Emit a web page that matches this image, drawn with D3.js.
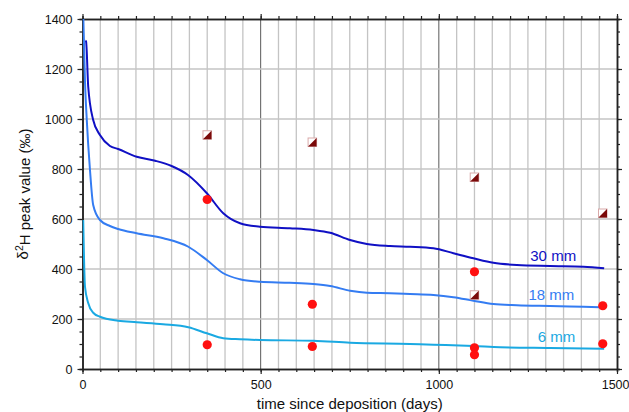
<!DOCTYPE html>
<html>
<head>
<meta charset="utf-8">
<script src="https://cdn.jsdelivr.net/npm/d3@7"></script>
<style>
  body { margin: 0; background: #fff; }
  text { font-family: "Liberation Sans", Arial, sans-serif; }
</style>
</head>
<body>
<div id="chart"></div>
<script>
// model curves (days, delta2H)
const days30 = [8, 10, 16, 30, 49, 77, 100, 152, 204, 250, 296, 349, 395, 442, 498, 582, 648, 695, 751, 798, 863, 919, 985, 1041, 1097, 1153, 1219, 1312, 1406, 1464];
const vals30 = [1313, 1310, 1130, 996, 936, 892, 880, 849, 833, 812, 776, 703, 623, 583, 569, 563, 556, 545, 516, 500, 492, 489, 483, 463, 443, 425, 416, 412, 409, 403];

const days18 = [2, 7, 12, 21, 30, 49, 77, 100, 152, 227, 297, 349, 395, 442, 498, 582, 648, 695, 751, 798, 863, 919, 985, 1041, 1097, 1153, 1219, 1312, 1406, 1464];
const vals18 = [1420, 1150, 996, 796, 656, 596, 572, 560, 543, 523, 489, 436, 383, 359, 349, 345, 340, 332, 313, 305, 303, 300, 296, 287, 273, 260, 255, 252, 249, 247];

const days6 = [2, 7, 16, 30, 49, 100, 152, 226, 297, 349, 395, 442, 498, 648, 751, 919, 985, 1097, 1172, 1312, 1464];
const vals6 = [596, 329, 264, 225, 209, 193, 187, 179, 167, 143, 123, 119, 116, 113, 105, 100, 97, 92, 87, 84, 81];

// measured peaks
const circleDays = [350, 350, 645, 645, 1100, 1100, 1100, 1460, 1460];
const circleVals = [678, 97, 259, 90, 389, 85, 57, 253, 101];
const squareDays = [350, 645, 1100, 1100, 1460];
const squareVals = [936, 907, 767, 296, 623];

const seriesNames = ['30 mm', '18 mm', '6 mm'];
const seriesColors = ['#1010c4', '#347cf2', '#1aa9e2'];
const labelDays = [1321, 1316, 1330];
const labelVals = [453, 296, 129];

const xTicks = [0, 500, 1000, 1500];
const yTicks = [0, 200, 400, 600, 800, 1000, 1200, 1400];

const width = 629, height = 412;
const margin = {left: 82.5, right: 12, top: 19, bottom: 43};

const x = d3.scaleLinear().domain([0, 1500]).range([margin.left, width - margin.right]);
const y = d3.scaleLinear().domain([0, 1400]).range([height - margin.bottom, margin.top]);

const svg = d3.select('#chart').append('svg')
    .attr('width', width)
    .attr('height', height);

svg.append('defs').append('clipPath').attr('id', 'plot')
    .append('rect')
    .attr('x', x(0)).attr('y', y(1400))
    .attr('width', x(1500) - x(0)).attr('height', y(0) - y(1400));

// grid
const xMinor = d3.range(50, 1500, 50);
const yMinor = d3.range(0, 1401, 50);

svg.append('g').selectAll('line')
    .data(xMinor)
    .enter().append('line')
    .attr('x1', d => x(d)).attr('x2', d => x(d))
    .attr('y1', y(0)).attr('y2', y(1400))
    .attr('stroke', d => d % 500 === 0 ? '#5a5a5a' : '#c4c4c4')
    .attr('stroke-width', d => d % 500 === 0 ? 1 : 1.3);

svg.append('g').selectAll('line')
    .data(yTicks.slice(1, -1))
    .enter().append('line')
    .attr('x1', x(0)).attr('x2', x(1500))
    .attr('y1', d => y(d)).attr('y2', d => y(d))
    .attr('stroke', '#c4c4c4')
    .attr('stroke-width', 1.5);

// axes
function styleAxis(g) {
    g.selectAll('.domain').attr('stroke', '#222').attr('stroke-width', 1.5);
    g.selectAll('.tick line').attr('stroke', '#222').attr('stroke-width', 1.2);
    g.selectAll('.tick text').attr('fill', '#111').style('font-size', '12.5px')
        .style('font-family', '"Liberation Sans", Arial, sans-serif');
}
const fmt = d3.format('d');

svg.append('g').attr('transform', `translate(0,${y(0)})`)
    .call(d3.axisBottom(x).tickValues(xMinor).tickSize(3).tickFormat(''))
    .call(styleAxis);
const xAxis = svg.append('g').attr('transform', `translate(0,${y(0)})`)
    .call(d3.axisBottom(x).tickValues(xTicks).tickSize(5).tickPadding(6).tickSizeOuter(0).tickFormat(fmt))
    .call(styleAxis);
// keep the last label inside the window
xAxis.selectAll('.tick text').filter(d => d === 1500)
    .attr('text-anchor', 'end').attr('dx', '12');

svg.append('g').attr('transform', `translate(0,${y(1400)})`)
    .call(d3.axisTop(x).tickValues(xMinor).tickSize(3).tickFormat(''))
    .call(styleAxis);
svg.append('g').attr('transform', `translate(0,${y(1400)})`)
    .call(d3.axisTop(x).tickValues(xTicks).tickSize(5).tickFormat('').tickSizeOuter(0))
    .call(styleAxis);

svg.append('g').attr('transform', `translate(${x(0)},0)`)
    .call(d3.axisLeft(y).tickValues(yMinor).tickSize(3).tickFormat(''))
    .call(styleAxis);
svg.append('g').attr('transform', `translate(${x(0)},0)`)
    .call(d3.axisLeft(y).tickValues(yTicks).tickSize(5).tickPadding(5).tickSizeOuter(0).tickFormat(fmt))
    .call(styleAxis);
svg.append('g').attr('transform', `translate(${x(1500)},0)`)
    .call(d3.axisRight(y).tickValues(yMinor).tickSize(3).tickFormat(''))
    .call(styleAxis);
svg.append('g').attr('transform', `translate(${x(1500)},0)`)
    .call(d3.axisRight(y).tickValues(yTicks).tickSize(5).tickFormat('').tickSizeOuter(0))
    .call(styleAxis);

// curves
const curves = [
    d3.zip(days30, vals30),
    d3.zip(days18, vals18),
    d3.zip(days6, vals6)
];
const line = d3.line()
    .x(d => x(d[0]))
    .y(d => y(d[1]))
    .curve(d3.curveMonotoneX);

svg.append('g').attr('clip-path', 'url(#plot)')
    .selectAll('path')
    .data(curves)
    .enter().append('path')
    .attr('d', line)
    .attr('fill', 'none')
    .attr('stroke', (d, i) => seriesColors[i])
    .attr('stroke-width', 2);

svg.append('g').selectAll('text')
    .data(seriesNames)
    .enter().append('text')
    .attr('x', (d, i) => x(labelDays[i]))
    .attr('y', (d, i) => y(labelVals[i]))
    .attr('dy', '0.35em')
    .attr('text-anchor', 'middle')
    .attr('fill', (d, i) => seriesColors[i])
    .style('font-size', '15px')
    .text(d => d);

// measured points
svg.append('g').selectAll('circle')
    .data(d3.zip(circleDays, circleVals))
    .enter().append('circle')
    .attr('cx', d => x(d[0]))
    .attr('cy', d => y(d[1]))
    .attr('r', 4.6)
    .attr('fill', '#ff1010');

const sq = 8.5;
const squares = svg.append('g').selectAll('g')
    .data(d3.zip(squareDays, squareVals))
    .enter().append('g')
    .attr('transform', d => `translate(${x(d[0])},${y(d[1])})`);
squares.append('rect')
    .attr('x', -sq / 2).attr('y', -sq / 2)
    .attr('width', sq).attr('height', sq)
    .attr('fill', '#fff')
    .attr('stroke', '#d9a9a9')
    .attr('stroke-width', 1);
squares.append('path')
    .attr('d', `M${sq / 2},${-sq / 2}L${sq / 2},${sq / 2}L${-sq / 2},${sq / 2}Z`)
    .attr('fill', '#7a0a0a');

// axis titles
svg.append('text')
    .attr('x', (x(0) + x(1500)) / 2)
    .attr('y', 409)
    .attr('text-anchor', 'middle')
    .attr('fill', '#111')
    .style('font-size', '15px')
    .text('time since deposition (days)');

const yt = svg.append('text')
    .attr('transform', `translate(28,${(y(0) + y(1400)) / 2}) rotate(-90)`)
    .attr('text-anchor', 'middle')
    .attr('fill', '#111')
    .style('font-size', '15px');
yt.append('tspan').text('δ');
yt.append('tspan').attr('dy', '-0.45em').style('font-size', '10.5px').text('2');
yt.append('tspan').attr('dy', '0.45em').text('H peak value (‰)');
</script>
</body>
</html>
